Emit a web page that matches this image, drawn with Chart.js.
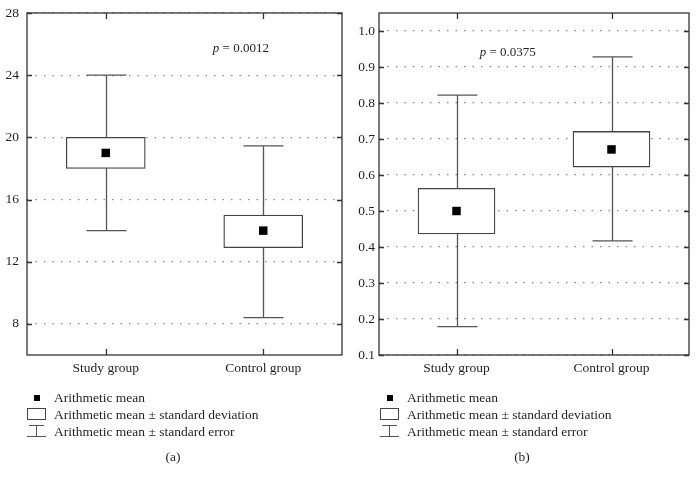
<!DOCTYPE html>
<html>
<head>
<meta charset="utf-8">
<script src="https://cdn.jsdelivr.net/npm/chart.js@4/dist/chart.umd.min.js"></script>
<style>
  body { margin: 0; background: #fff; width: 698px; height: 484px; position: relative; overflow: hidden;
         font-family: "Liberation Serif", "DejaVu Serif", serif; color: #231f20; }
  canvas { position: absolute; top: 0; }
  .legend { position: absolute; font-size: 13.5px; }
  .row { position: relative; height: 17px; line-height: 17px; white-space: nowrap; }
  .row svg { position: absolute; left: 0; top: 0; }
  .row span { position: absolute; left: 27px; top: 0; }
  .cap { position: absolute; top: 449px; font-size: 13.5px; width: 40px; text-align: center; }
</style>
</head>
<body>
<canvas id="chartA" width="350" height="395" style="left:0"></canvas>
<canvas id="chartB" width="348" height="395" style="left:350px"></canvas>

<div class="legend" style="left:27px; top:389px">
  <div class="row"><svg width="20" height="17"><rect x="7" y="6" width="6" height="6" fill="#000"/></svg><span>Arithmetic mean</span></div>
  <div class="row"><svg width="20" height="17"><rect x="0.5" y="2.5" width="18" height="11" fill="none" stroke="#444"/></svg><span>Arithmetic mean ± standard deviation</span></div>
  <div class="row"><svg width="20" height="17"><path d="M2 2.5H17M9.5 2.5V13.5M0 13.5H19" stroke="#555" fill="none"/></svg><span>Arithmetic mean ± standard error</span></div>
</div>
<div class="cap" style="left:153px">(a)</div>

<div class="legend" style="left:380px; top:389px">
  <div class="row"><svg width="20" height="17"><rect x="7" y="6" width="6" height="6" fill="#000"/></svg><span>Arithmetic mean</span></div>
  <div class="row"><svg width="20" height="17"><rect x="0.5" y="2.5" width="18" height="11" fill="none" stroke="#444"/></svg><span>Arithmetic mean ± standard deviation</span></div>
  <div class="row"><svg width="20" height="17"><path d="M2 2.5H17M9.5 2.5V13.5M0 13.5H19" stroke="#555" fill="none"/></svg><span>Arithmetic mean ± standard error</span></div>
</div>
<div class="cap" style="left:502px">(b)</div>

<script>
var groups = ['Study group', 'Control group'];

// panel (a)
var meanA = [19, 14];
var sdLowA = [18, 12.9];
var sdHighA = [20, 15];
var errLowA = [14, 8.4];
var errHighA = [24, 19.45];
var ticksA = [8, 12, 16, 20, 24, 28];

// panel (b)
var meanB = [0.5, 0.671];
var sdLowB = [0.436, 0.622];
var sdHighB = [0.563, 0.721];
var errLowB = [0.179, 0.417];
var errHighB = [0.822, 0.928];
var ticksB = [0.1, 0.2, 0.3, 0.4, 0.5, 0.6, 0.7, 0.8, 0.9, 1.0];

var serif = '"Liberation Serif", "DejaVu Serif", serif';

// whiskers behind the boxes
var whiskerPlugin = {
  id: 'whiskers',
  beforeDatasetsDraw: function(chart, args, opts) {
    var ctx = chart.ctx, x = chart.scales.x, y = chart.scales.y;
    ctx.save();
    ctx.strokeStyle = '#555';
    ctx.lineWidth = 1.3;
    for (var i = 0; i < opts.lo.length; i++) {
      var px = Math.round(x.getPixelForValue(i)) + 0.5;
      var top = y.getPixelForValue(opts.hi[i]);
      var bot = y.getPixelForValue(opts.lo[i]);
      ctx.beginPath();
      ctx.moveTo(px, top); ctx.lineTo(px, bot);
      ctx.moveTo(px - opts.cap / 2, top); ctx.lineTo(px + opts.cap / 2, top);
      ctx.moveTo(px - opts.cap / 2, bot); ctx.lineTo(px + opts.cap / 2, bot);
      ctx.stroke();
    }
    ctx.restore();
  }
};

// frame, inner ticks, p value
var framePlugin = {
  id: 'frame',
  afterDraw: function(chart, args, opts) {
    var ctx = chart.ctx, a = chart.chartArea, x = chart.scales.x, y = chart.scales.y;
    ctx.save();
    ctx.strokeStyle = '#333';
    ctx.lineWidth = 1.3;
    ctx.strokeRect(a.left, a.top, a.right - a.left, a.bottom - a.top);
    ctx.beginPath();
    y.ticks.forEach(function(t) {
      var py = Math.round(y.getPixelForValue(t.value)) + 0.5;
      ctx.moveTo(a.left, py); ctx.lineTo(a.left + 5, py);
      ctx.moveTo(a.right, py); ctx.lineTo(a.right - 5, py);
    });
    for (var i = 0; i < groups.length; i++) {
      var px = Math.round(x.getPixelForValue(i)) + 0.5;
      ctx.moveTo(px, a.top); ctx.lineTo(px, a.top + 6);
      ctx.moveTo(px, a.bottom); ctx.lineTo(px, a.bottom - 6);
    }
    ctx.stroke();

    var tx = x.getPixelForValue(opts.px), ty = y.getPixelForValue(opts.py);
    ctx.fillStyle = '#231f20';
    ctx.textBaseline = 'middle';
    ctx.textAlign = 'left';
    ctx.font = 'italic 13px ' + serif;
    ctx.fillText('p', tx, ty);
    var w = ctx.measureText('p').width;
    ctx.font = '13px ' + serif;
    ctx.fillText(' = ' + opts.text, tx + w, ty);
    ctx.restore();
  }
};

function makeChart(id, d) {
  return new Chart(document.getElementById(id), {
    type: 'bar',
    data: {
      labels: groups,
      datasets: [{
        type: 'line',
        data: d.mean,
        showLine: false,
        pointStyle: 'rect',
        pointRadius: 6,
        pointHoverRadius: 6,
        pointBackgroundColor: '#000',
        pointBorderWidth: 0,
        order: 0
      }, {
        data: d.mean.map(function(m, i) { return [d.sdLow[i], d.sdHigh[i]]; }),
        backgroundColor: '#fff',
        borderColor: '#444',
        borderWidth: 1.3,
        borderSkipped: false,
        barThickness: d.boxW,
        order: 1
      }]
    },
    options: {
      responsive: false,
      animation: false,
      events: [],
      layout: { padding: { top: 13, right: d.padR, left: 0, bottom: 0 } },
      plugins: {
        legend: { display: false },
        tooltip: { enabled: false },
        whiskers: { lo: d.errLow, hi: d.errHigh, cap: 40 },
        frame: { px: d.textX, py: d.textY, text: d.pText }
      },
      scales: {
        x: {
          offset: true,
          grid: { display: false, drawTicks: false },
          border: { display: false },
          ticks: { color: '#231f20', padding: 5, font: { family: serif, size: 13.5 } },
          afterFit: function(s) { s.height = 40; }
        },
        y: {
          min: d.min,
          max: d.max,
          afterBuildTicks: function(s) { s.ticks = d.ticks.map(function(v) { return { value: v }; }); },
          grid: { color: '#8a8a8a', drawTicks: false, lineWidth: 1.2 },
          border: { display: false, dash: [1.5, 7] },
          ticks: {
            color: '#231f20',
            padding: d.tickPad,
            font: { family: serif, size: 13.5 },
            callback: d.fmt
          },
          afterFit: function(s) {
            s.width = d.axisW;
            s.paddingTop = Math.min(s.paddingTop, 10);
          }
        }
      }
    },
    plugins: [whiskerPlugin, framePlugin]
  });
}

makeChart('chartA', {
  mean: meanA, sdLow: sdLowA, sdHigh: sdHighA, errLow: errLowA, errHigh: errHighA,
  ticks: ticksA, min: 6, max: 28, boxW: 79, padR: 8, axisW: 27, tickPad: 8,
  textX: 0.68, textY: 25.7, pText: '0.0012',
  fmt: function(v) { return v; }
});

makeChart('chartB', {
  mean: meanB, sdLow: sdLowB, sdHigh: sdHighB, errLow: errLowB, errHigh: errHighB,
  ticks: ticksB, min: 0.1, max: 1.05, boxW: 77, padR: 9, axisW: 29, tickPad: 4,
  textX: 0.15, textY: 0.939, pText: '0.0375',
  fmt: function(v) { return Number(v).toFixed(1); }
});
</script>
</body>
</html>
